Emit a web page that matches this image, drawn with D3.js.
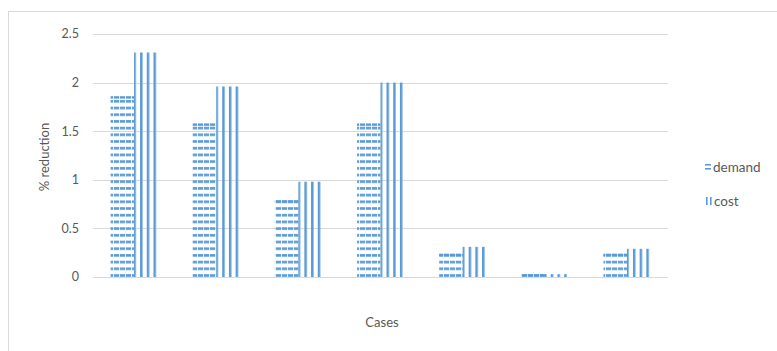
<!DOCTYPE html>
<html><head><meta charset="utf-8">
<script src="https://cdn.jsdelivr.net/npm/d3@7"></script>
<style>body{margin:0;background:#fff}svg{display:block}text{font-family:Lato,"Open Sans",sans-serif}</style>
</head><body><div id="c"></div>
<script>
const categories = ["1","2","3","4","5","6","7"];
const demand = [1.86, 1.58, 0.79, 1.58, 0.24, 0.03, 0.24];
const cost = [2.31, 1.96, 0.98, 2.0, 0.31, 0.03, 0.29];
const yTicks = [0, 0.5, 1, 1.5, 2, 2.5];
const seriesNames = ["demand", "cost"];

const W = 777, H = 351;
const svg = d3.select("#c").append("svg").attr("width", W).attr("height", H);
const defs = svg.append("defs");
const color = "#5b9bd5";

svg.append("rect").attr("x", 8.5).attr("y", 11.5).attr("width", W + 10).attr("height", H + 10)
  .attr("fill", "none").attr("stroke", "#d9d9d9");

const x = d3.scaleBand().domain(categories).range([93, 668]).paddingInner(0).paddingOuter(0);
const y = d3.scaleLinear().domain([0, 2.5]).range([277, 34]);

svg.append("g").selectAll("line").data(yTicks).join("line")
  .attr("x1", 93).attr("x2", 668)
  .attr("y1", d => Math.round(y(d)) + 0.5).attr("y2", d => Math.round(y(d)) + 0.5)
  .attr("stroke", "#d9d9d9").attr("stroke-width", 1);

svg.append("g").selectAll("text").data(yTicks).join("text")
  .attr("x", 79).attr("y", d => y(d)).attr("dy", "0.35em")
  .attr("text-anchor", "end").attr("font-size", 12.5).attr("fill", "#595959")
  .text(d => d);

const bw = x.bandwidth() / 3.5;
const inner = d3.scaleBand().domain(seriesNames).range([0, 2 * bw]);
const period = 6.7;

const pd = defs.append("pattern").attr("id", "pd").attr("patternUnits", "userSpaceOnUse")
  .attr("x", 0).attr("y", y(0)).attr("width", 6).attr("height", period);
pd.append("rect").attr("x", 0).attr("y", period - 2.8).attr("width", 5.2).attr("height", 2.6).attr("fill", color);
const pdt = defs.append("pattern").attr("id", "pdt").attr("patternUnits", "userSpaceOnUse")
  .attr("x", 0).attr("y", 0).attr("width", 6).attr("height", 1000);
pdt.append("rect").attr("x", 0).attr("y", 0).attr("width", 5.2).attr("height", 1000).attr("fill", color);

const g = svg.append("g");
categories.forEach((c, i) => {
  const x0 = x(c) + (x.bandwidth() - 2 * bw) / 2;
  const dx = x0 + inner("demand");
  g.append("rect").attr("x", dx).attr("y", y(demand[i]))
    .attr("width", bw).attr("height", y(0) - y(demand[i])).attr("fill", "url(#pd)");
  g.append("rect").attr("x", dx).attr("y", y(demand[i]))
    .attr("width", bw).attr("height", Math.min(2.4, y(0) - y(demand[i]))).attr("fill", "url(#pdt)");
  const cx = x0 + inner("cost");
  const pid = "pc" + i;
  const pc = defs.append("pattern").attr("id", pid).attr("patternUnits", "userSpaceOnUse")
    .attr("x", cx - 0.7).attr("y", 0).attr("width", period).attr("height", 10);
  pc.append("rect").attr("x", 0).attr("y", 0).attr("width", 2.5).attr("height", 10).attr("fill", color);
  g.append("rect").attr("x", cx).attr("y", y(cost[i]))
    .attr("width", bw).attr("height", y(0) - y(cost[i])).attr("fill", `url(#${pid})`);
});

svg.append("text").attr("transform", `translate(49,157) rotate(-90)`)
  .attr("text-anchor", "middle").attr("font-size", 13).attr("fill", "#595959").text("% reduction");
svg.append("text").attr("x", 382).attr("y", 327).attr("text-anchor", "middle")
  .attr("font-size", 13).attr("fill", "#595959").text("Cases");

const lg = svg.append("g");
lg.append("rect").attr("x", 705).attr("y", 164).attr("width", 6).attr("height", 1.6).attr("fill", color);
lg.append("rect").attr("x", 705).attr("y", 168).attr("width", 6).attr("height", 1.6).attr("fill", color);
lg.append("rect").attr("x", 706).attr("y", 197).attr("width", 1.6).attr("height", 8).attr("fill", color);
lg.append("rect").attr("x", 710).attr("y", 197).attr("width", 1.6).attr("height", 8).attr("fill", color);
lg.append("text").attr("x", 713).attr("y", 167).attr("dy", "0.35em").attr("font-size", 13.5).attr("fill", "#595959").text(seriesNames[0]);
lg.append("text").attr("x", 714).attr("y", 201).attr("dy", "0.35em").attr("font-size", 13.5).attr("fill", "#595959").text(seriesNames[1]);
</script></body></html>
